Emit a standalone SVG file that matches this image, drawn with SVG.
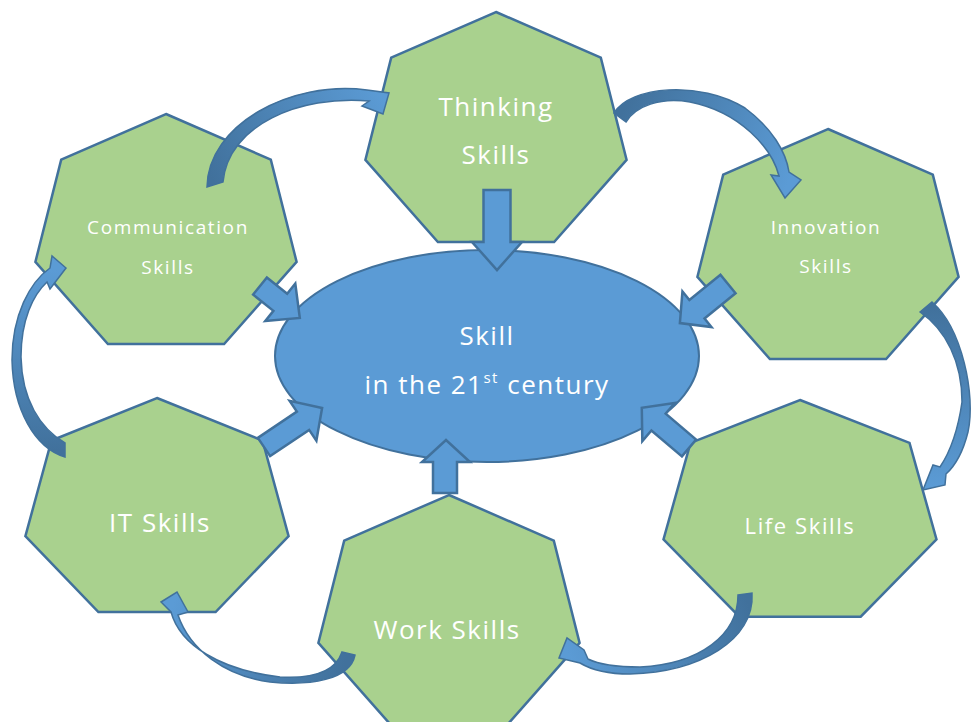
<svg xmlns="http://www.w3.org/2000/svg" width="972" height="722" viewBox="0 0 972 722">
<defs>
<style>
.hep{fill:#A9D18E;stroke:#41719C;stroke-width:2.5;stroke-linejoin:miter}
.ell{fill:#5B9BD5;stroke:#41719C;stroke-width:2}
.blk{fill:#5B9BD5;stroke:#41719C;stroke-width:2.5;stroke-linejoin:miter}
.crv{stroke:#41719C;stroke-width:1.5;stroke-linejoin:miter}
.t{fill:#FFFFFF;font-family:"Open Sans","Noto Sans",sans-serif;text-anchor:middle}
.big{font-size:26px;letter-spacing:1.5px}
.mid{font-size:22px;letter-spacing:1.6px}
.sm{font-size:19px;letter-spacing:1.6px}
</style>
<linearGradient id="gA" gradientUnits="userSpaceOnUse" x1="215" y1="185" x2="385" y2="100"><stop offset="0" stop-color="#41719C"/><stop offset="1" stop-color="#5B9BD5"/></linearGradient>
<linearGradient id="gB" gradientUnits="userSpaceOnUse" x1="620" y1="118" x2="785" y2="190"><stop offset="0" stop-color="#41719C"/><stop offset="1" stop-color="#5B9BD5"/></linearGradient>
<linearGradient id="gC" gradientUnits="userSpaceOnUse" x1="926" y1="307" x2="930" y2="487"><stop offset="0" stop-color="#41719C"/><stop offset="1" stop-color="#5B9BD5"/></linearGradient>
<linearGradient id="gD" gradientUnits="userSpaceOnUse" x1="745" y1="594" x2="567" y2="650"><stop offset="0" stop-color="#41719C"/><stop offset="1" stop-color="#5B9BD5"/></linearGradient>
<linearGradient id="gE" gradientUnits="userSpaceOnUse" x1="348" y1="654" x2="175" y2="598"><stop offset="0" stop-color="#41719C"/><stop offset="1" stop-color="#5B9BD5"/></linearGradient>
<linearGradient id="gF" gradientUnits="userSpaceOnUse" x1="65" y1="450" x2="60" y2="270"><stop offset="0" stop-color="#41719C"/><stop offset="1" stop-color="#5B9BD5"/></linearGradient>
</defs>
<rect width="972" height="722" fill="#FFFFFF"/>

<g id="center">
<ellipse class="ell" cx="487" cy="356" rx="212" ry="106"/>
<text class="t big" x="487" y="345">Skill</text>
<text class="t big" x="487" y="394">in the 21<tspan font-size="15" dy="-11">st</tspan><tspan dy="11"> century</tspan></text>
</g>

<g id="thinking">
<polygon class="hep" points="496,12 600.8,57.6 626.6,159.9 554.1,242 437.9,242 365.4,159.9 391.2,57.6"/>
<text class="t big" x="496" y="116">Thinking</text>
<text class="t big" x="496" y="164">Skills</text>
</g>

<g id="communication">
<polygon class="hep" points="166,114 270.8,159.6 296.6,261.9 224.1,344 107.9,344 35.4,261.9 61.2,159.6"/>
<text class="t sm" x="168" y="234">Communication</text>
<text class="t sm" x="168" y="274">Skills</text>
</g>

<g id="innovation">
<polygon class="hep" points="828,129 932.8,174.6 958.6,276.9 886.1,359 769.9,359 697.4,276.9 723.2,174.6"/>
<text class="t sm" x="826" y="234" font-size="20">Innovation</text>
<text class="t sm" x="826" y="273" font-size="20">Skills</text>
</g>

<g id="it">
<polygon class="hep" points="157,398 262.5,440.5 288.6,536.1 215.6,612 98.4,612 25.4,536.1 51.5,440.5"/>
<text class="t big" x="160" y="532">IT Skills</text>
</g>

<g id="life">
<polygon class="hep" points="800,400 909.5,442.9 936.5,539.4 860.7,616.7 739.3,616.7 663.5,539.4 690.5,442.9"/>
<text class="t mid" x="800" y="534">Life Skills</text>
</g>

<g id="work">
<polygon class="hep" points="449,495 553.8,540.6 579.6,642.9 507.1,725 390.9,725 318.4,642.9 344.2,540.6"/>
<text class="t big" x="447" y="639">Work Skills</text>
</g>

<g id="connectors">
<polygon class="blk" points="483.5,190 510.5,190 510.5,242 522,242 497,270 472,242 483.5,242"/>
<polygon class="blk" points="433,493 457,493 457,462 470,462 446,440 422,462 433,462"/>
<polygon class="blk" transform="translate(260,286) rotate(38.7)" points="0,-11 26,-11 26,-24 51,0 26,24 26,11 0,11"/>
<polygon class="blk" transform="translate(264,447) rotate(-33.9)" points="0,-11 47,-11 47,-24 70,0 47,24 47,11 0,11"/>
<polygon class="blk" transform="translate(728,284) rotate(140.9)" points="0,-12 40,-12 40,-23 62,0 40,23 40,12 0,12"/>
<polygon class="blk" transform="translate(689,448) rotate(-139.6)" points="0,-11 40,-11 40,-25 62,0 40,25 40,11 0,11"/>

<path class="crv" fill="url(#gA)" d="M207,187 C208,125 290,80 367,90 L389,93 L383,114 L362,106 L369,101 C300,95 228,125 223,182 Z"/>
<path class="crv" fill="url(#gB)" d="M614,113 C630,86 700,80 745,108 C772,128 786,152 789,172 L801,180 L785,198 L771,175 L779,176 C772,148 740,112 690,102 C660,97 636,106 626,122 Z"/>
<path class="crv" fill="url(#gC)" d="M920,312 L932,302 C962,328 976,395 968,432 C963,452 955,466 946,474 L945,485 L923,490 L933,465 L940,467 C950,452 958,430 962,402 C962,362 946,330 920,312 Z"/>
<path class="crv" fill="url(#gD)" d="M738,595 L752,593 C755,640 700,672 630,674 C605,674 590,669 580,663 L559,658 L567,638 L584,650 L588,659 C600,665 615,667 640,667 C700,664 738,635 738,595 Z"/>
<path class="crv" fill="url(#gE)" d="M342,652 L355,655 C350,680 310,686 270,682 C225,676 190,650 178,615 L188,612 L177,592 L161,602 L171,612 C180,645 220,670 280,677 C315,679 336,670 342,652 Z"/>
<path class="crv" fill="url(#gF)" d="M65,457 L65,443 C40,428 22,400 21,357 C21,320 33,295 47,282 L50,289 L66,268 L52,256 L50,268 C30,282 12,315 12,360 C13,410 35,448 65,457 Z"/>
</g>
</svg>
